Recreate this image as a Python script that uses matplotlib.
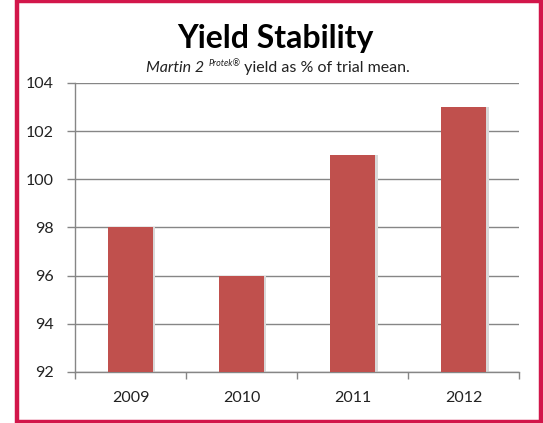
import matplotlib
matplotlib.use("Agg")
import matplotlib.pyplot as plt
from matplotlib.patches import Rectangle
import numpy as np

years = ["2009", "2010", "2011", "2012"]
yield_pct = [98, 96, 101, 103]
y_ticks = [92, 94, 96, 98, 100, 102, 104]

plt.rcParams['font.family'] = ['Lato', 'DejaVu Sans']

fig = plt.figure(figsize=(5.43, 4.23), dpi=100)
ax = fig.add_axes([0.138, 0.1206, 0.818, 0.6832])

x = np.arange(len(years))
# soft shadow behind the bars
ax.bar(x + 0.025, np.array(yield_pct) - 92, bottom=92, width=0.4,
       color="#d9d9d9", zorder=2)
ax.bar(x, np.array(yield_pct) - 92, bottom=92, width=0.4,
       color="#c0504d", zorder=3)

ax.set_xlim(-0.5, len(years) - 0.5)
ax.set_ylim(92, 104)
ax.set_yticks(y_ticks)
ax.set_yticklabels([str(v) for v in y_ticks], fontsize=11.5, color="#222222")
ax.set_xticks(x)
ax.set_xticklabels(years, fontsize=11.5, color="#222222")
ax.set_xticks(np.arange(len(years) + 1) - 0.5, minor=True)
ax.tick_params(axis="x", which="major", length=0, pad=14)
ax.tick_params(axis="x", which="minor", length=5, color="#868686", width=1)
ax.tick_params(axis="y", length=6, color="#868686", width=1, pad=9)

ax.grid(axis="y", color="#868686", linewidth=1, zorder=1)
ax.set_axisbelow(True)
for side in ["top", "right"]:
    ax.spines[side].set_visible(False)
for side in ["left", "bottom"]:
    ax.spines[side].set_color("#868686")
    ax.spines[side].set_linewidth(1)

# red frame
fig.patches.append(Rectangle((16.5 / 543, 1.5 / 423), 524 / 543, 420 / 423,
                             transform=fig.transFigure, fill=False,
                             edgecolor="#d2164a", linewidth=3.2))

fig.text(275.5 / 543, 1 - 48 / 423, "Yield Stability", ha="center",
         va="baseline", fontsize=23, fontweight="bold", color="#000000")

# subtitle with mixed styles
fig.canvas.draw()
r = fig.canvas.get_renderer()
y_sub = 1 - 72 / 423
parts = [
    ("Martin 2 ", dict(fontsize=11.5, style="italic"), 0),
    ("Protek®", dict(fontsize=6.5, style="italic"), 6),
    (" yield as % of trial mean.", dict(fontsize=11.5), 0),
]
texts = []
for s, kw, dy in parts:
    t = fig.text(0, y_sub, s, ha="left", va="baseline", color="#222222", **kw)
    texts.append((t, dy))
widths = [t.get_window_extent(r).width for t, _ in texts]
total = sum(widths)
cx = 278
xpos = cx - total / 2
for (t, dy), w in zip(texts, widths):
    t.set_position((xpos / 543, y_sub + dy / 423))
    xpos += w

fig.savefig("out.png", dpi=100)
